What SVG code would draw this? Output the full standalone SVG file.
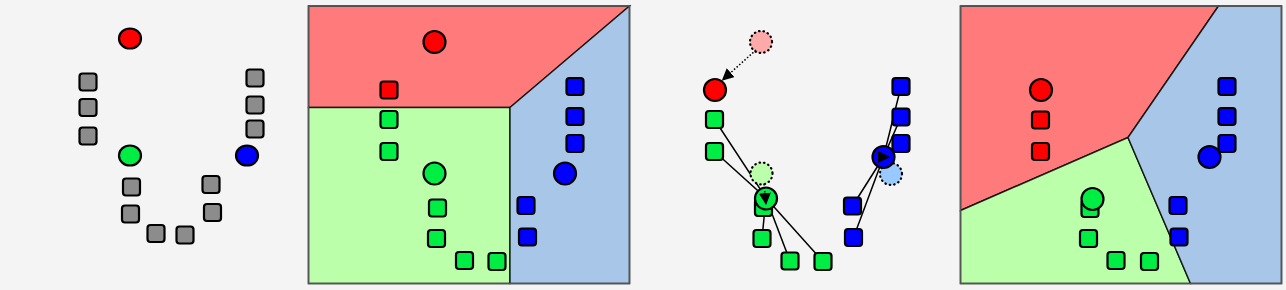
<svg xmlns="http://www.w3.org/2000/svg" width="1286" height="290" viewBox="0 0 1286 290">
<style>
.sq{stroke:#000;stroke-width:2.2;}
.c{stroke:#000;stroke-width:2.2;}
.gray{fill:#8c8c8c;}
.r{fill:#ff0000;}
.g{fill:#00ee44;}
.b{fill:#0000ff;}
.ghost{stroke:#000;stroke-width:2.2;stroke-dasharray:0.5 4;stroke-linecap:round;}
.link{stroke:#000;stroke-width:1.5;fill:none;}
.move{stroke:#000;stroke-width:1.5;stroke-dasharray:1.5 2;fill:none;}
.region{stroke:#000;stroke-width:1.5;stroke-opacity:0.8;}
.frame{fill:none;stroke:#555;stroke-width:1.5;}
</style>
<defs>
<marker id="ah" markerWidth="12" markerHeight="12" refX="11" refY="6" orient="auto" markerUnits="userSpaceOnUse"><path d="M0,0 L12,6 L0,12 Z" fill="#000"/></marker>
<rect id="s" x="-8.5" y="-8.5" width="17" height="17" rx="3"/>
</defs>
<rect width="1286" height="290" fill="#f4f4f4"/>

<!-- Panel 1 -->
<g id="panel1">
<g id="p1-points" class="sq gray">
<use href="#s" x="88" y="82"/>
<use href="#s" x="88" y="107.5"/>
<use href="#s" x="88" y="136"/>
<use href="#s" x="255" y="78"/>
<use href="#s" x="255" y="105"/>
<use href="#s" x="255" y="129"/>
<use href="#s" x="131.5" y="187"/>
<use href="#s" x="130.5" y="214"/>
<use href="#s" x="156" y="233.5"/>
<use href="#s" x="185" y="235"/>
<use href="#s" x="211" y="184.5"/>
<use href="#s" x="212.5" y="212.5"/>
</g>
<ellipse id="p1-red" class="c r" cx="130" cy="38.5" rx="11" ry="10"/>
<ellipse id="p1-green" class="c g" cx="130" cy="155.5" rx="11" ry="10"/>
<ellipse id="p1-blue" class="c b" cx="247" cy="155.5" rx="11" ry="10"/>
</g>

<!-- Panel 2 -->
<g id="panel2">
<polygon class="region" fill="#ff7b7b" points="308.5,6 629.5,6 510,107.5 308.5,107.5"/>
<polygon class="region" fill="#bbffaa" points="308.5,107.5 510,107.5 510,283.5 308.5,283.5"/>
<polygon class="region" fill="#a8c7e8" points="510,107.5 629.5,6 629.5,283.5 510,283.5"/>
<rect class="frame" x="308.5" y="6" width="321" height="277.5"/>
<g id="p2-points" class="sq">
<use href="#s" class="r" x="389" y="90"/>
<use href="#s" class="g" x="389" y="119.5"/>
<use href="#s" class="g" x="389" y="151.5"/>
<use href="#s" class="g" x="437.5" y="208"/>
<use href="#s" class="g" x="436.5" y="238.5"/>
<use href="#s" class="g" x="464.5" y="260.5"/>
<use href="#s" class="g" x="497" y="261.5"/>
<use href="#s" class="b" x="575" y="86.5"/>
<use href="#s" class="b" x="575" y="116.5"/>
<use href="#s" class="b" x="575" y="143.5"/>
<use href="#s" class="b" x="526" y="205.5"/>
<use href="#s" class="b" x="527.5" y="237"/>
</g>
<circle id="p2-red" class="c r" cx="434.5" cy="42" r="11"/>
<circle id="p2-green" class="c g" cx="434.5" cy="173.5" r="11"/>
<circle id="p2-blue" class="c b" cx="565" cy="173.5" r="11"/>
</g>

<!-- Panel 3 -->
<g id="panel3">
<g id="connectors">
<line class="link" x1="714.5" y1="119.5" x2="766" y2="198"/>
<line class="link" x1="714.5" y1="151.5" x2="766" y2="198"/>
<line class="link" x1="762" y1="238.5" x2="766" y2="198"/>
<line class="link" x1="790" y1="261" x2="766" y2="198"/>
<line class="link" x1="823" y1="261.5" x2="766" y2="198"/>
<line class="link" x1="901" y1="86.5" x2="883.5" y2="157"/>
<line class="link" x1="901" y1="117" x2="883.5" y2="157"/>
<line class="link" x1="901" y1="143.5" x2="883.5" y2="157"/>
<line class="link" x1="852.5" y1="206" x2="883.5" y2="157"/>
<line class="link" x1="853.5" y1="237.5" x2="883.5" y2="157"/>
</g>
<g id="p3-old">
<circle class="ghost" fill="#ffaaaa" cx="761" cy="42" r="11"/>
<circle class="ghost" fill="#bbffaa" cx="761.5" cy="173.5" r="11"/>
<circle class="ghost" fill="#99c9ff" cx="891" cy="174" r="11"/>
</g>
<g id="p3-points" class="sq">
<use href="#s" class="g" x="714.5" y="119.5"/>
<use href="#s" class="g" x="714.5" y="151.5"/>
<use href="#s" class="g" x="763.5" y="207.5"/>
<use href="#s" class="g" x="762" y="238.5"/>
<use href="#s" class="g" x="790" y="261"/>
<use href="#s" class="g" x="823" y="261.5"/>
<use href="#s" class="b" x="901" y="86.5"/>
<use href="#s" class="b" x="901" y="117"/>
<use href="#s" class="b" x="901" y="143.5"/>
<use href="#s" class="b" x="852.5" y="206"/>
<use href="#s" class="b" x="853.5" y="237.5"/>
</g>
<circle id="p3-red" class="c r" cx="715" cy="90" r="11"/>
<circle id="p3-green" class="c g" cx="766" cy="198.5" r="11"/>
<circle id="p3-blue" class="c b" cx="883.5" cy="157" r="11"/>
<g id="p3-moves">
<line class="move" x1="756" y1="50" x2="722.5" y2="80" marker-end="url(#ah)"/>
<line class="move" x1="764" y1="184" x2="766" y2="204" marker-end="url(#ah)"/>
<line class="move" x1="878" y1="157" x2="889" y2="157" marker-end="url(#ah)"/>
</g>
</g>

<!-- Panel 4 -->
<g id="panel4">
<polygon class="region" fill="#ff7b7b" points="960.5,6 1218.5,6 1128,137.5 960.5,210.5"/>
<polygon class="region" fill="#bbffaa" points="960.5,210.5 1128,137.5 1190.5,283.5 960.5,283.5"/>
<polygon class="region" fill="#a8c7e8" points="1218.5,6 1281.5,6 1281.5,283.5 1190.5,283.5 1128,137.5"/>
<rect class="frame" x="960.5" y="6" width="321" height="277.5"/>
<g id="p4-points" class="sq">
<use href="#s" class="r" x="1040.5" y="120"/>
<use href="#s" class="r" x="1040.5" y="151.5"/>
<use href="#s" class="g" x="1090" y="208.5"/>
<use href="#s" class="g" x="1088.5" y="238.5"/>
<use href="#s" class="g" x="1116" y="260.5"/>
<use href="#s" class="g" x="1149.5" y="261.5"/>
<use href="#s" class="b" x="1227" y="86.5"/>
<use href="#s" class="b" x="1227" y="116.5"/>
<use href="#s" class="b" x="1227" y="143.5"/>
<use href="#s" class="b" x="1178" y="205.5"/>
<use href="#s" class="b" x="1179" y="237"/>
</g>
<circle id="p4-red" class="c r" cx="1041" cy="90" r="11"/>
<circle id="p4-green" class="c g" cx="1092.5" cy="199" r="11"/>
<circle id="p4-blue" class="c b" cx="1209.5" cy="157" r="11"/>
</g>
</svg>
